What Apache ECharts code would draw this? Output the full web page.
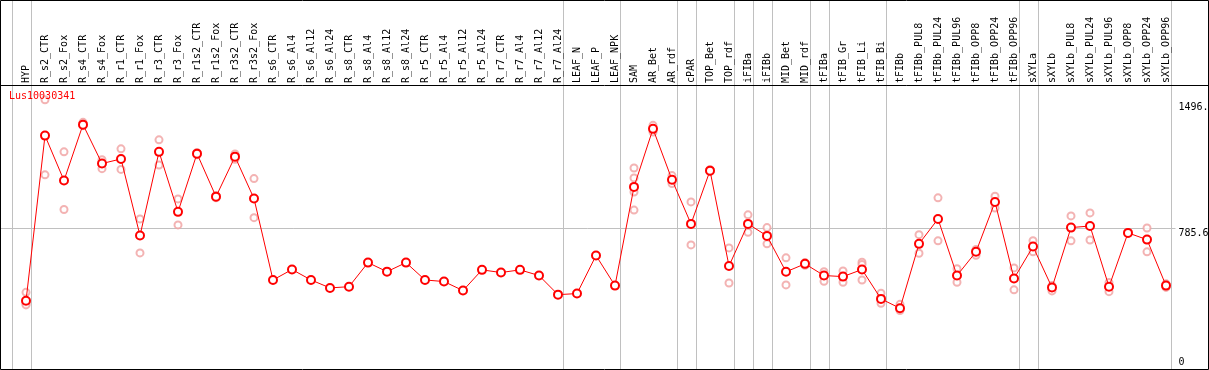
<!DOCTYPE html>
<html><head><meta charset="utf-8">
<script src="https://cdn.jsdelivr.net/npm/echarts@6/dist/echarts.min.js"></script>
<style>html,body{margin:0;padding:0;background:#fff}#c{width:1209px;height:370px}</style>
</head><body><div id="c"></div>
<script>
const categories = ["HYP","R_s2_CTR","R_s2_Fox","R_s4_CTR","R_s4_Fox","R_r1_CTR","R_r1_Fox","R_r3_CTR","R_r3_Fox","R_r1s2_CTR","R_r1s2_Fox","R_r3s2_CTR","R_r3s2_Fox","R_s6_CTR","R_s6_Al4","R_s6_Al12","R_s6_Al24","R_s8_CTR","R_s8_Al4","R_s8_Al12","R_s8_Al24","R_r5_CTR","R_r5_Al4","R_r5_Al12","R_r5_Al24","R_r7_CTR","R_r7_Al4","R_r7_Al12","R_r7_Al24","LEAF_N","LEAF_P","LEAF_NPK","SAM","AR_Bet","AR_rdf","cPAR","TOP_Bet","TOP_rdf","iFIBa","iFIBb","MID_Bet","MID_rdf","tFIBa","tFIB_Gr","tFIB_Li","tFIB_Bi","tFIBb","tFIBb_PUL8","tFIBb_PUL24","tFIBb_PUL96","tFIBb_OPP8","tFIBb_OPP24","tFIBb_OPP96","sXYLa","sXYLb","sXYLb_PUL8","sXYLb_PUL24","sXYLb_PUL96","sXYLb_OPP8","sXYLb_OPP24","sXYLb_OPP96"];
const means = [374,1308,1054,1370,1150,1176,743,1216,877,1206,963,1189,952,492,551,492,447,454,590,539,590,492,483,432,549,534,549,517,409,415,630,460,1018,1346,1058,809,1110,571,809,741,538,583,517,511,551,385,332,696,837,517,651,933,500,681,449,788,797,454,758,720,460];
const replicates = [
  [422,358,351],[1510,1086],[1216,890],[1383,1364],[1172,1121],[1233,1117],[837,645],[1284,1142],[950,803],[1212,1200],[969,957],[1204,1174],[1065,844],
  [],[],[],[],[],[],[],[],[],[],[],[],[],[],[],[],[],[],[],
  [1125,1069,989,887],[1366,1328],[1082,1037],[933,690],[1116,1104],[673,475],[860,761],[788,696],[617,464],[590,575],[539,484],[543,479],[592,579,492],[417,360],[354,319],
  [748,643],[956,713],[556,479],[664,631],[965,899],[560,436],[714,651],[460,430],[854,713],[871,718],[477,426],[760,756],[786,651],[470,450]
];
const yTickValues = [0, 785.6, 1496];
const yTickLabels = ["0", "785.6", "1496."];
const separatorsAfter = [-1,0,28,31,34,35,37,38,39,41,42,45,52,53,60];
const geneId = "Lus10030341";
const yMax = 1594;

const font = "'DejaVu Sans Mono', monospace";
const repData = [];
replicates.forEach((arr, i) => arr.forEach(v => repData.push([i, v])));
const labelFor = v => { const k = yTickValues.findIndex(t => Math.abs(t - v) < 1e-6); return k >= 0 ? yTickLabels[k] : ''; };

const chart = echarts.init(document.getElementById('c'), null, {renderer: 'canvas'});
const yAxisBase = {
  type: 'value', position: 'right', min: 0, max: yMax,
  axisLine: {show: false}, axisTick: {show: false}, splitLine: {show: false}
};
const option = {
  animation: false,
  backgroundColor: '#fff',
  title: {text: geneId, left: 9, top: 91, padding: 0,
    textStyle: {color: '#ff0000', fontSize: 10, fontWeight: 'normal', fontFamily: font}},
  grid: {left: 16.5, right: 33.5, top: 85, bottom: 3, containLabel: false, outerBoundsMode: 'none'},
  xAxis: {
    type: 'category', data: categories, position: 'top', boundaryGap: true,
    axisLine: {show: false}, axisTick: {show: false}, splitLine: {show: false},
    axisLabel: {interval: 0, rotate: 90, margin: 2, fontSize: 10, fontFamily: font, color: '#000'}
  },
  yAxis: [
    Object.assign({}, yAxisBase, {axisLabel: {customValues: yTickValues.slice(1), formatter: labelFor,
      verticalAlign: 'top', margin: 3, fontSize: 10, fontFamily: font, color: '#000'}}),
    Object.assign({}, yAxisBase, {axisLabel: {customValues: yTickValues.slice(0, 1), formatter: labelFor,
      verticalAlign: 'bottom', margin: 3, fontSize: 10, fontFamily: font, color: '#000'}})
  ],
  series: [
    {type: 'scatter', data: repData, symbol: 'emptyCircle', symbolSize: 7, silent: true, z: 2,
      itemStyle: {color: '#f0a0a0', borderWidth: 1.5}},
    {type: 'line', data: means, symbol: 'emptyCircle', symbolSize: 8, showAllSymbol: true, z: 3,
      lineStyle: {color: '#ff0000', width: 1}, itemStyle: {color: '#ff0000', borderWidth: 1.3}}
  ]
};
chart.setOption(option);

const px = i => chart.convertToPixel({xAxisIndex: 0}, i);
const band = px(1) - px(0);
const W = chart.getWidth(), H = chart.getHeight();
const yTop = Math.round(chart.convertToPixel({yAxisIndex: 0}, yMax)) + 0.5;
const yGrid = Math.round(chart.convertToPixel({yAxisIndex: 0}, yTickValues[1])) + 0.5;
const gridRight = px(categories.length - 1) + band / 2;
const els = [];
separatorsAfter.forEach(i => {
  const x = Math.round(px(0) + (i + 0.25) * band) + 0.5;
  els.push({type: 'line', silent: true, z: -1, shape: {x1: x, y1: 0, x2: x, y2: H}, style: {stroke: '#c0c0c0', lineWidth: 1}});
});
els.push({type: 'line', silent: true, z: -1, shape: {x1: 0, y1: yGrid, x2: gridRight, y2: yGrid}, style: {stroke: '#c0c0c0', lineWidth: 1}});
els.push({type: 'line', silent: true, z: 10, shape: {x1: 0, y1: yTop, x2: W, y2: yTop}, style: {stroke: '#000', lineWidth: 1}});
els.push({type: 'rect', silent: true, z: 10, shape: {x: 0.5, y: 0.5, width: W - 1, height: H - 1}, style: {stroke: '#000', fill: null, lineWidth: 1}});
chart.setOption({graphic: {elements: els}});
</script>
</body></html>
